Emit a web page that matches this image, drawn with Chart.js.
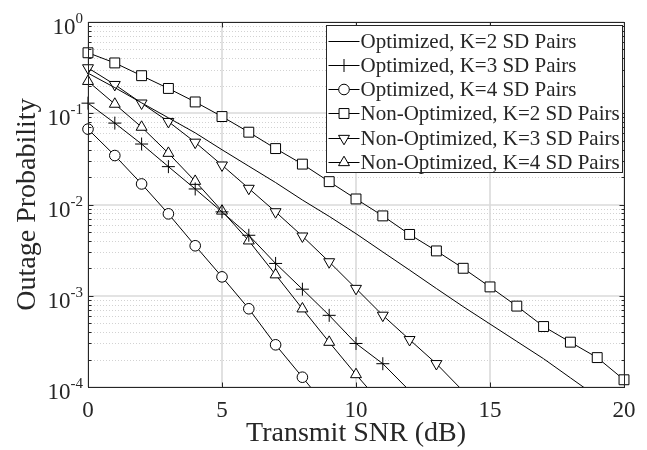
<!DOCTYPE html>
<html>
<head>
<meta charset="utf-8">
<title>Outage Probability</title>
<script src="https://cdn.jsdelivr.net/npm/chart.js@4.4.1/dist/chart.umd.min.js"></script>
<style>
  html, body { margin: 0; padding: 0; background: #fff; }
</style>
</head>
<body>
<canvas id="chartCanvas" width="647" height="450"></canvas>
<script>
// data (x = transmit SNR in dB)
const snr = [0, 1, 2, 3, 4, 5, 6, 7, 8, 9, 10, 11, 12, 13, 14, 15, 16, 17, 18, 19, 20];
const optK2 = [0.275, 0.191, 0.130, 0.0891, 0.0610, 0.0398, 0.0263, 0.0174, 0.0112, 0.00741, 0.00479,
  0.00302, 0.00191, 0.00120, 7.6e-4, 4.9e-4, 3.16e-4, 2.04e-4, 1.26e-4, 7.8e-5];
const optK3 = [0.129, 0.078, 0.046, 0.026, 0.0148, 0.0083, 0.0046, 0.00226, 0.00118, 6.1e-4, 3.0e-4, 1.8e-4, 9.1e-5];
const optK4 = [0.067, 0.0344, 0.0168, 0.0079, 0.00353, 0.00161, 7.2e-4, 2.9e-4, 1.28e-4, 5.6e-5];
const nonOptK2 = [0.46, 0.356, 0.258, 0.187, 0.133, 0.092, 0.062, 0.041, 0.0277, 0.0178, 0.0115,
  0.0075, 0.0047, 0.0031, 0.0020, 0.00125, 7.7e-4, 4.6e-4, 3.1e-4, 2.1e-4, 1.2e-4];
const nonOptK3 = [0.314, 0.206, 0.129, 0.081, 0.048, 0.027, 0.015, 0.0083, 0.0045, 0.00235, 0.0012, 6.1e-4, 3.3e-4, 1.8e-4, 9.0e-5];
const nonOptK4 = [0.224, 0.126, 0.0705, 0.0365, 0.018, 0.0085, 0.0040, 0.0017, 7.2e-4, 3.1e-4, 1.37e-4, 6.3e-5];

const xTicks = [0, 5, 10, 15, 20];
const yDecades = [-4, -3, -2, -1, 0];
const yMinor = [2, 3, 4, 5, 6, 7, 8, 9];
const Y_MIN = 1e-4, Y_MAX = 1;

const FONT = '"Liberation Serif", "Times New Roman", serif';
const AXIS = '#262626';

function series(label, values, style, radius, rotation) {
  return {
    label: label,
    data: values.map((v, i) => ({ x: snr[i], y: v })),
    borderColor: '#000',
    borderWidth: 1,
    backgroundColor: '#fff',
    pointStyle: style,
    pointRotation: rotation || 0,
    pointRadius: ctx => (radius && ctx.raw && ctx.raw.y >= Y_MIN) ? radius : 0,
    pointHoverRadius: 0,
    pointBorderColor: '#000',
    pointBackgroundColor: '#fff',
    pointBorderWidth: 1,
    tension: 0,
    fill: false,
    clip: { left: 12, right: 12, top: 12, bottom: 0 }
  };
}

const datasets = [
  series('Optimized, K=2 SD Pairs', optK2, false, 0),
  series('Optimized, K=3 SD Pairs', optK3, 'cross', 6.5),
  series('Optimized, K=4 SD Pairs', optK4, 'circle', 5.3),
  series('Non-Optimized, K=2 SD Pairs', nonOptK2, 'rect', 7),
  series('Non-Optimized, K=3 SD Pairs', nonOptK3, 'triangle', 6.3, 180),
  series('Non-Optimized, K=4 SD Pairs', nonOptK4, 'triangle', 6.3)
];

function hline(ctx, x1, x2, y) { ctx.beginPath(); ctx.moveTo(x1, y); ctx.lineTo(x2, y); ctx.stroke(); }
function vline(ctx, x, y1, y2) { ctx.beginPath(); ctx.moveTo(x, y1); ctx.lineTo(x, y2); ctx.stroke(); }

// MATLAB-like grid: solid major lines, dotted minor lines on y only
const gridPlugin = {
  id: 'matlabGrid',
  beforeDatasetsDraw(chart) {
    const { ctx, chartArea: a, scales: { x, y } } = chart;
    ctx.save();
    ctx.strokeStyle = '#d2d2d2';
    ctx.lineWidth = 1;
    ctx.setLineDash([1, 2]);
    yDecades.forEach(e => {
      if (e >= 0) return;
      yMinor.forEach(m => {
        const py = Math.round(y.getPixelForValue(m * Math.pow(10, e))) + 0.5;
        hline(ctx, a.left, a.right, py);
      });
    });
    ctx.setLineDash([]);
    ctx.strokeStyle = '#dadada';
    ctx.lineWidth = 1.6;
    xTicks.forEach(v => vline(ctx, Math.round(x.getPixelForValue(v)), a.top, a.bottom));
    yDecades.forEach(e => hline(ctx, a.left, a.right, Math.round(y.getPixelForValue(Math.pow(10, e)))));
    ctx.restore();
  }
};

// box, inward ticks, y labels with exponents
const axesPlugin = {
  id: 'matlabAxes',
  afterDatasetsDraw(chart) {
    const { ctx, chartArea: a, scales: { x, y } } = chart;
    const L = Math.round(a.left) + 0.5, R = Math.round(a.right) + 0.5;
    const T = Math.round(a.top) + 0.5, B = Math.round(a.bottom) + 0.5;
    ctx.save();
    ctx.strokeStyle = AXIS;
    ctx.lineWidth = 1;
    ctx.strokeRect(L, T, R - L, B - T);
    xTicks.forEach(v => {
      const px = Math.round(x.getPixelForValue(v)) + 0.5;
      vline(ctx, px, B, B - 5);
      vline(ctx, px, T, T + 5);
    });
    yDecades.forEach(e => {
      const py = Math.round(y.getPixelForValue(Math.pow(10, e))) + 0.5;
      hline(ctx, L, L + 5, py);
      hline(ctx, R, R - 5, py);
      if (e >= 0) return;
      yMinor.forEach(m => {
        const pm = Math.round(y.getPixelForValue(m * Math.pow(10, e))) + 0.5;
        hline(ctx, L, L + 3, pm);
        hline(ctx, R, R - 3, pm);
      });
    });

    ctx.fillStyle = AXIS;
    ctx.textAlign = 'left';
    ctx.textBaseline = 'alphabetic';
    const right = a.left - 5;
    yDecades.forEach(e => {
      const py = y.getPixelForValue(Math.pow(10, e));
      const sup = String(e);
      ctx.font = '15px ' + FONT;
      const supW = ctx.measureText(sup).width;
      ctx.font = '23px ' + FONT;
      const baseW = ctx.measureText('10').width;
      ctx.fillText('10', right - supW - baseW, py + 12);
      ctx.font = '15px ' + FONT;
      ctx.fillText(sup, right - supW, py + 1);
    });
    ctx.restore();
  }
};

// boxed legend in the top right corner of the axes
const legendPlugin = {
  id: 'boxLegend',
  afterDraw(chart) {
    const { ctx, chartArea: a } = chart;
    const w = 296, h = 147;
    const left = Math.round(a.right - 2 - w) + 0.5, top = Math.round(a.top + 3) + 0.5;
    ctx.save();
    ctx.fillStyle = '#fff';
    ctx.fillRect(left, top, w, h);
    ctx.strokeStyle = AXIS;
    ctx.lineWidth = 1;
    ctx.strokeRect(left, top, w, h);
    ctx.font = '21px ' + FONT;
    ctx.textBaseline = 'middle';
    ctx.textAlign = 'left';
    chart.data.datasets.forEach((ds, i) => {
      const cy = Math.round(top + 15 + i * 24.3) + 0.5;
      ctx.strokeStyle = '#000';
      ctx.lineWidth = 1;
      hline(ctx, left + 2, left + 33, cy);
      const r = ds.pointRadius({ raw: { y: 1 } });
      if (r > 0) {
        ctx.fillStyle = '#fff';
        Chart.helpers.drawPoint(ctx, {
          pointStyle: ds.pointStyle, rotation: ds.pointRotation, radius: r, borderWidth: 1
        }, left + 17.5, cy);
      }
      ctx.fillStyle = AXIS;
      ctx.fillText(ds.label, left + 34, cy + 1);
    });
    ctx.restore();
  }
};

new Chart(document.getElementById('chartCanvas').getContext('2d'), {
  type: 'line',
  data: { datasets: datasets },
  options: {
    responsive: false,
    animation: false,
    devicePixelRatio: 1,
    layout: { padding: { top: 22, right: 23, left: 0, bottom: 0 } },
    plugins: { legend: { display: false }, tooltip: { enabled: false } },
    scales: {
      x: {
        type: 'linear',
        min: 0,
        max: 20,
        afterBuildTicks: s => { s.ticks = xTicks.map(v => ({ value: v })); },
        afterFit: s => { s.height = 63; },
        grid: { display: false },
        border: { display: false },
        ticks: { font: { family: FONT, size: 23 }, color: AXIS, padding: 2, maxRotation: 0, autoSkip: false },
        title: {
          display: true, text: 'Transmit SNR (dB)', color: AXIS,
          font: { family: FONT, size: 28 }, padding: { top: 0, bottom: 0 }
        }
      },
      y: {
        type: 'logarithmic',
        min: Y_MIN,
        max: Y_MAX,
        afterBuildTicks: s => { s.ticks = yDecades.map(e => ({ value: Math.pow(10, e) })); },
        afterFit: s => { s.width = 88; },
        grid: { display: false },
        border: { display: false },
        ticks: { display: false },
        title: {
          display: true, text: 'Outage Probability', color: AXIS,
          font: { family: FONT, size: 28 }, padding: { top: 11, bottom: 0 }
        }
      }
    }
  },
  plugins: [gridPlugin, axesPlugin, legendPlugin]
});
</script>
</body>
</html>
